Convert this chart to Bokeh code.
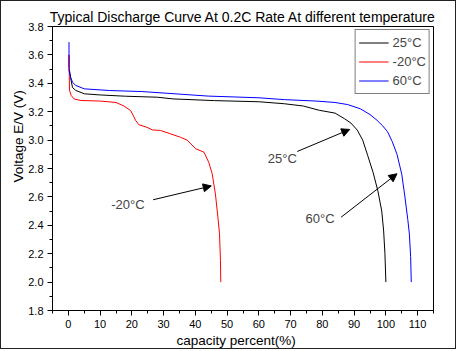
from bokeh.plotting import figure
from bokeh.models import (Range1d, FixedTicker, PrintfTickFormatter, Label, Arrow,
                          NormalHead, Legend, LegendItem, Title)
from bokeh.embed import file_html
from bokeh.resources import INLINE

# ---- data ----
x_25 = [0.3, 0.7, 1.3, 2.3, 5, 10, 18, 28, 33, 46, 60, 68, 74, 79, 84, 87, 89, 91,
        92.7, 94.3, 96, 97.5, 98.7, 99.3, 99.7, 100]
y_25 = [3.50, 3.44, 3.37, 3.35, 3.326, 3.318, 3.309, 3.302, 3.29, 3.278, 3.27, 3.256,
        3.24, 3.21, 3.19, 3.15, 3.12, 3.07, 3.00, 2.89, 2.77, 2.64, 2.50, 2.36, 2.20, 2.00]

x_m20 = [0.2, 0.2, 0.35, 0.9, 1.8, 3.9, 10, 15, 17.5, 19.6, 20.5, 21.2, 22.2, 24.8,
         26.4, 29, 32.2, 35.3, 37.4, 40.1, 42.7, 44.2, 45.3, 46.3, 47.1, 47.6, 47.9, 48]
y_m20 = [3.51, 3.60, 3.35, 3.314, 3.29, 3.279, 3.275, 3.265, 3.24, 3.208, 3.17, 3.138,
         3.108, 3.09, 3.072, 3.068, 3.044, 3.02, 3.00, 2.939, 2.915, 2.844, 2.763, 2.622,
         2.457, 2.34, 2.152, 2.00]

x_60 = [0.2, 0.2, 0.7, 1.3, 2.3, 5, 13, 23, 31, 44, 60, 68, 78, 84, 88, 92, 95, 97.2,
        99, 100.5, 102, 103.5, 105, 106, 106.9, 107.4, 107.8, 108]
y_60 = [3.69, 3.49, 3.443, 3.408, 3.385, 3.361, 3.349, 3.342, 3.33, 3.31, 3.298, 3.285,
        3.275, 3.265, 3.25, 3.22, 3.18, 3.14, 3.10, 3.06, 2.99, 2.90, 2.76, 2.60, 2.44,
        2.34, 2.18, 2.00]

series_names = ["25°C", "-20°C", "60°C"]
series_colors = ["#000000", "#ff0000", "#0000ff"]

x_ticks = [0, 10, 20, 30, 40, 50, 60, 70, 80, 90, 100, 110]
x_minor = [-5, 5, 15, 25, 35, 45, 55, 65, 75, 85, 95, 105, 115]
y_ticks = [1.8, 2.0, 2.2, 2.4, 2.6, 2.8, 3.0, 3.2, 3.4, 3.6, 3.8]
y_minor = [1.9, 2.1, 2.3, 2.5, 2.7, 2.9, 3.1, 3.3, 3.5, 3.7]

title_text = "Typical Discharge Curve At 0.2C Rate At different temperature"
x_title = "capacity percent(%)"
y_title = "Voltage E/V (V)"

FONT = "Liberation Sans"

p = figure(width=456, height=349, output_backend="svg", toolbar_location=None,
           x_range=Range1d(-5, 115), y_range=Range1d(1.8, 3.8),
           min_border_left=51, min_border_right=24, min_border_top=25,
           min_border_bottom=40,
           styles={"border": "1px solid #222222"})
p.background_fill_color = "white"
p.border_fill_color = "white"
p.outline_line_color = "black"
p.outline_line_width = 1
p.grid.visible = False

for ax, ticks, minor, fmt in ((p.xaxis[0], x_ticks, x_minor, "%d"),
                              (p.yaxis[0], y_ticks, y_minor, "%.1f")):
    ax.ticker = FixedTicker(ticks=ticks, minor_ticks=minor)
    ax.formatter = PrintfTickFormatter(format=fmt)
    ax.axis_line_color = "black"
    ax.major_tick_line_color = "black"
    ax.minor_tick_line_color = "black"
    ax.major_tick_out = 5
    ax.major_tick_in = 0
    ax.minor_tick_out = 3
    ax.minor_tick_in = 0
    ax.major_label_text_font = FONT
    ax.major_label_text_font_size = "11px"
    ax.major_label_text_color = "black"
p.yaxis.major_label_standoff = 4
p.xaxis.major_label_standoff = 4

r25 = p.line(x_25, y_25, line_color=series_colors[0], line_width=1)
rm20 = p.line(x_m20, y_m20, line_color=series_colors[1], line_width=1)
r60 = p.line(x_60, y_60, line_color=series_colors[2], line_width=1)

legend = Legend(items=[LegendItem(label=series_names[0], renderers=[r25]),
                       LegendItem(label=series_names[1], renderers=[rm20]),
                       LegendItem(label=series_names[2], renderers=[r60])],
                location="top_right", margin=3, padding=3, spacing=0,
                glyph_width=30, glyph_height=19, label_height=19, label_standoff=4,
                label_text_font=FONT, label_text_font_size="13px",
                border_line_color="black", border_line_width=1,
                background_fill_color="white", background_fill_alpha=1)
p.add_layout(legend)

# title and axis titles
p.add_layout(Title(text=title_text, align="center", text_font=FONT,
                   text_font_size="14px", text_font_style="normal",
                   text_color="black", standoff=3), "above")
p.add_layout(Title(text=x_title, align="left", offset=124, text_font=FONT,
                   text_font_size="13.5px", text_font_style="normal",
                   text_color="black", standoff=0), "below")
p.add_layout(Title(text=y_title, align="left", offset=128, text_font=FONT,
                   text_font_size="13.5px", text_font_style="normal",
                   text_color="black", standoff=0), "left")

# annotations
ann = [("-20°C", 13.5, 2.546, 26.7, 2.58, 45.0, 2.677),
       ("25°C", 62.8, 2.873, 72.1, 2.92, 88.6, 3.075),
       ("60°C", 74.7, 2.45, 85.9, 2.457, 103.5, 2.763)]
for t, tx, ty, xs, ys, xe, ye in ann:
    p.add_layout(Label(x=tx, y=ty, text=t, text_align="left", text_baseline="middle",
                       text_font=FONT, text_font_size="13px"))
    p.add_layout(Arrow(x_start=xs, y_start=ys, x_end=xe, y_end=ye, line_width=1,
                       line_color="black",
                       end=NormalHead(size=8, fill_color="black", line_color="black")))

open("out.html", "w").write(file_html(p, INLINE))
